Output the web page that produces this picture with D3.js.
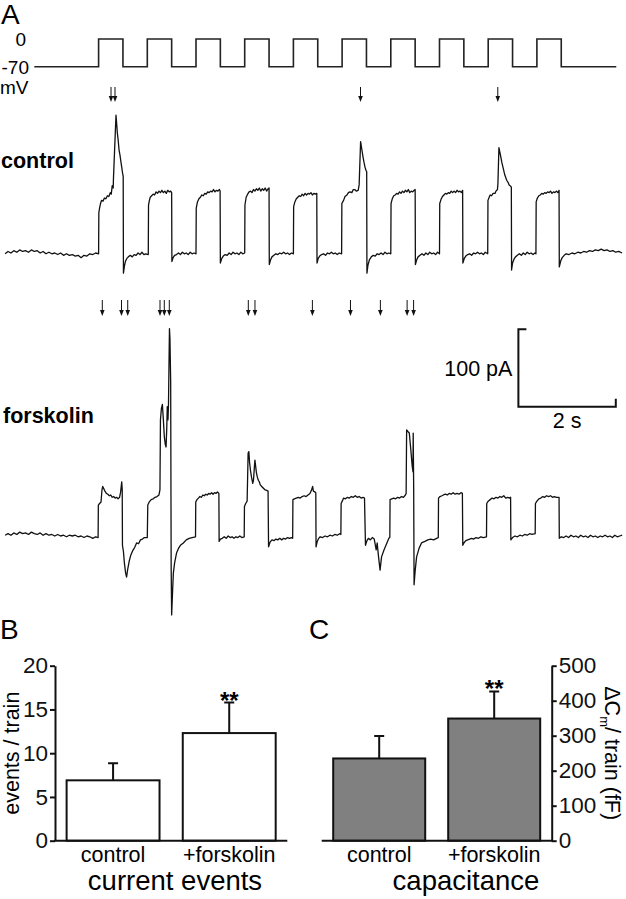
<!DOCTYPE html>
<html><head><meta charset="utf-8">
<script src="https://cdn.jsdelivr.net/npm/d3@7"></script>
<style>body{margin:0;background:#fff}svg{display:block;font-family:Arial,"Liberation Sans",Helvetica,sans-serif}</style>
</head><body><svg id="fig" width="626" height="899"></svg>
<script>
// ---------- DATA ----------
// voltage protocol: [time (s), mV]
const protocol = [[0.68,-70],[2,0],[2.5,-70],[3,0],[3.5,-70],[4,0],[4.5,-70],[5,0],[5.5,-70],[6,0],[6.5,-70],[7,0],[7.5,-70],[8,0],[8.5,-70],[9,0],[9.5,-70],[10,0],[10.5,-70],[11,0],[11.5,-70],[12.63,-70]];
const protocolLabels = ["0","-70","mV"];

// control current trace: [time (s), pA]
const controlTrace = [
[0.08,-1],[0.14,2],[0.2,0],[0.26,3],[0.32,1],[0.38,4],[0.44,2],[0.5,3],[0.56,1],[0.62,4],[0.68,2],[0.74,3],[0.8,0],[0.86,2],[0.92,-1],[0.98,1],[1.04,-1],[1.1,0],[1.16,-2],[1.22,0],[1.28,-3],[1.34,-1],[1.4,-3],[1.46,-2],[1.52,-4],[1.58,-3],[1.64,-6],[1.7,-3],[1.76,-4],[1.82,-1],[1.88,-2],[1.94,0],[2.0,-1],
[2.005,52],[2.02,58],[2.04,64],[2.06,68],[2.09,67],[2.12,71],[2.15,70],[2.18,74],[2.21,73],[2.24,78],[2.26,76],[2.28,87],[2.3,84],[2.305,96],[2.357,178],[2.37,168],[2.385,155],[2.4,147],[2.42,133],[2.44,126],[2.46,117],[2.475,111],[2.49,104],[2.505,99],[2.51,-26],[2.53,-17],[2.55,-11],[2.58,-7],[2.61,-5],[2.65,-3],[2.69,-5],[2.73,-2],[2.77,-3],[2.81,0],[2.85,-2],[2.89,1],[2.93,-2],[2.97,-1],[3.02,-2],
[3.025,62],[3.04,67],[3.06,72],[3.09,74],[3.12,76],[3.15,75],[3.18,79],[3.21,77],[3.24,80],[3.27,78],[3.3,81],[3.33,78],[3.36,80],[3.39,77],[3.42,81],[3.45,79],[3.48,80],[3.5,78],[3.505,-11],[3.53,-6],[3.56,-3],[3.6,-2],[3.64,0],[3.68,-2],[3.72,1],[3.76,-1],[3.8,0],[3.84,-2],[3.88,1],[3.92,-1],[3.96,0],[4.0,-1],
[4.005,58],[4.03,66],[4.06,70],[4.09,72],[4.12,75],[4.15,74],[4.18,77],[4.21,76],[4.24,79],[4.27,78],[4.3,80],[4.33,79],[4.36,82],[4.39,79],[4.42,81],[4.45,80],[4.48,82],[4.495,80],[4.5,-13],[4.53,-7],[4.56,-4],[4.6,-2],[4.64,-3],[4.68,0],[4.72,-2],[4.76,1],[4.8,-1],[4.84,0],[4.88,-2],[4.92,1],[4.96,-1],[5.0,0],
[5.005,62],[5.03,72],[5.06,76],[5.09,79],[5.12,80],[5.15,78],[5.18,82],[5.21,80],[5.24,83],[5.27,81],[5.3,84],[5.33,80],[5.36,83],[5.39,81],[5.42,84],[5.45,80],[5.48,83],[5.5,84],[5.505,-15],[5.53,-9],[5.56,-5],[5.6,-3],[5.64,-1],[5.68,-2],[5.72,0],[5.76,-1],[5.8,1],[5.84,-1],[5.88,0],[5.92,-2],[5.96,0],[6.0,-1],
[6.005,60],[6.03,66],[6.06,70],[6.09,72],[6.12,74],[6.15,73],[6.18,76],[6.21,74],[6.24,77],[6.27,75],[6.3,77],[6.33,76],[6.36,78],[6.39,75],[6.42,77],[6.45,76],[6.48,77],[6.485,-13],[6.51,-7],[6.54,-4],[6.58,-2],[6.62,-1],[6.66,-3],[6.7,0],[6.74,-1],[6.78,1],[6.82,-1],[6.86,0],[6.9,-2],[6.94,0],[6.99,-1],
[6.995,64],[7.03,68],[7.06,73],[7.1,75],[7.13,78],[7.16,79],[7.2,78],[7.23,82],[7.26,82],[7.29,80],[7.33,81],[7.35,88],[7.38,144],[7.4,136],[7.43,124],[7.45,117],[7.47,111],[7.49,107],[7.505,105],[7.51,-26],[7.53,-16],[7.56,-9],[7.6,-5],[7.64,-3],[7.68,-4],[7.72,-1],[7.76,-2],[7.8,0],[7.84,-2],[7.88,1],[7.92,-1],[7.96,0],[8.0,-1],
[8.005,64],[8.03,70],[8.06,74],[8.09,75],[8.12,77],[8.15,76],[8.18,79],[8.21,77],[8.24,80],[8.27,78],[8.3,81],[8.33,79],[8.36,82],[8.39,78],[8.42,80],[8.45,79],[8.48,81],[8.5,82],[8.505,-15],[8.53,-9],[8.56,-5],[8.6,-3],[8.64,-1],[8.68,-3],[8.72,0],[8.76,-2],[8.8,1],[8.84,-1],[8.88,0],[8.92,-2],[8.96,1],[9.0,-1],
[9.005,64],[9.03,69],[9.06,73],[9.09,75],[9.12,77],[9.15,76],[9.18,78],[9.21,77],[9.24,80],[9.27,78],[9.3,80],[9.33,78],[9.36,81],[9.39,79],[9.42,80],[9.45,78],[9.475,81],[9.48,-13],[9.51,-7],[9.54,-4],[9.58,-2],[9.62,-1],[9.66,-3],[9.7,0],[9.74,-1],[9.78,1],[9.82,-1],[9.86,0],[9.9,-2],[9.94,1],[9.99,-1],
[9.995,68],[10.02,72],[10.04,75],[10.07,74],[10.1,77],[10.14,77],[10.16,80],[10.19,82],[10.2,90],[10.22,136],[10.24,130],[10.26,124],[10.28,117],[10.31,109],[10.34,101],[10.38,94],[10.41,91],[10.43,88],[10.45,87],[10.475,85],[10.48,-22],[10.5,-13],[10.53,-8],[10.56,-5],[10.6,-3],[10.64,-1],[10.68,-3],[10.72,0],[10.76,-2],[10.8,1],[10.84,-1],[10.88,0],[10.92,-2],[10.96,0],[10.98,-1],
[10.985,66],[11.01,71],[11.04,74],[11.07,75],[11.1,77],[11.13,76],[11.16,78],[11.19,77],[11.22,79],[11.25,78],[11.28,80],[11.31,77],[11.34,79],[11.37,78],[11.4,80],[11.43,78],[11.455,81],[11.46,-18],[11.49,-10],[11.52,-6],[11.56,-3],[11.6,-1],[11.66,-2],[11.72,0],[11.78,-1],[11.84,1],[11.9,0],[11.96,2],[12.02,1],[12.08,3],[12.14,2],[12.2,4],[12.26,3],[12.32,5],[12.38,3],[12.44,4],[12.5,2],[12.56,3],[12.62,1],[12.68,2],[12.75,0]
];

// forskolin current trace: [time (s), pA]
const forskolinTrace = [
[0.08,1],[0.14,3],[0.2,1],[0.26,4],[0.32,2],[0.38,5],[0.44,3],[0.5,4],[0.56,2],[0.62,5],[0.68,3],[0.74,2],[0.8,4],[0.86,1],[0.92,3],[0.98,1],[1.04,2],[1.1,0],[1.16,2],[1.22,0],[1.28,1],[1.34,-1],[1.4,1],[1.46,0],[1.52,1],[1.58,-1],[1.64,0],[1.7,-2],[1.76,0],[1.82,-1],[1.88,-3],[1.94,-1],[1.99,-2],
[1.995,40],[2.02,42],[2.05,44],[2.07,60],[2.085,64],[2.1,62],[2.13,58],[2.16,55],[2.19,54],[2.22,52],[2.25,53],[2.28,50],[2.31,51],[2.34,49],[2.37,50],[2.4,48],[2.43,50],[2.45,56],[2.475,70],[2.485,60],[2.49,-12],[2.51,-20],[2.53,-35],[2.555,-48],[2.575,-53],[2.6,-42],[2.63,-32],[2.66,-25],[2.7,-19],[2.74,-15],[2.78,-9],[2.82,-10],[2.86,-5],[2.9,-4],[2.94,-2],[3.0,-2],
[3.01,40],[3.04,44],[3.08,47],[3.12,48],[3.16,50],[3.2,51],[3.24,53],[3.26,60],[3.27,150],[3.29,165],[3.31,170],[3.33,150],[3.35,128],[3.37,118],[3.385,115],[3.4,140],[3.41,167],[3.425,150],[3.435,170],[3.455,268],[3.465,255],[3.48,200],[3.49,-40],[3.5,-102],[3.52,-70],[3.535,-48],[3.56,-35],[3.6,-22],[3.64,-16],[3.68,-12],[3.74,-9],[3.8,-5],[3.86,-3],[3.92,-2],[3.99,-1],
[3.995,44],[4.02,47],[4.05,49],[4.08,51],[4.11,50],[4.14,53],[4.17,52],[4.2,54],[4.23,53],[4.26,55],[4.29,54],[4.32,56],[4.35,54],[4.38,56],[4.41,55],[4.44,57],[4.47,55],[4.475,-7],[4.5,-4],[4.54,-3],[4.58,-1],[4.62,-3],[4.66,0],[4.7,-2],[4.74,-1],[4.78,-3],[4.82,-1],[4.86,-2],[4.9,0],[4.94,-2],[4.99,-1],
[4.995,38],[5.02,42],[5.05,45],[5.07,107],[5.085,109],[5.1,95],[5.12,84],[5.14,76],[5.165,68],[5.18,72],[5.2,90],[5.21,98],[5.225,90],[5.24,82],[5.26,76],[5.28,72],[5.3,70],[5.32,66],[5.35,64],[5.38,62],[5.41,60],[5.45,59],[5.48,58],[5.49,-14],[5.52,-8],[5.56,-5],[5.6,-6],[5.64,-4],[5.68,-5],[5.72,-3],[5.76,-5],[5.8,-3],[5.84,-4],[5.88,-2],[5.92,-3],[5.96,-2],[5.985,-3],
[5.99,47],[6.02,48],[6.06,49],[6.1,50],[6.14,49],[6.18,51],[6.22,52],[6.26,51],[6.3,53],[6.34,55],[6.37,59],[6.395,64],[6.41,58],[6.44,57],[6.46,56],[6.465,-14],[6.49,-7],[6.52,-3],[6.55,-1],[6.6,-2],[6.65,0],[6.7,-1],[6.75,1],[6.8,0],[6.85,2],[6.9,1],[6.95,3],[6.975,2],
[6.98,42],[7.01,46],[7.03,49],[7.07,48],[7.11,50],[7.15,49],[7.19,51],[7.23,50],[7.27,52],[7.31,50],[7.35,51],[7.39,49],[7.43,50],[7.46,49],[7.48,-12],[7.51,-6],[7.54,-3],[7.58,-5],[7.62,-2],[7.66,-4],[7.7,-18],[7.72,-9],[7.75,-28],[7.78,-44],[7.81,-27],[7.86,-18],[7.92,-9],[7.96,-3],[7.98,-2],
[7.985,47],[8.02,48],[8.06,49],[8.1,48],[8.14,50],[8.18,49],[8.22,51],[8.26,50],[8.3,53],[8.315,55],[8.325,137],[8.35,135],[8.38,133],[8.41,112],[8.44,90],[8.455,83],[8.46,133],[8.47,60],[8.478,-63],[8.5,-45],[8.53,-27],[8.58,-16],[8.63,-9],[8.7,-7],[8.76,-5],[8.82,-4],[8.88,-5],[8.94,-3],[8.975,-2],
[8.98,49],[9.01,51],[9.05,52],[9.08,53],[9.12,54],[9.16,53],[9.2,55],[9.24,54],[9.28,56],[9.32,54],[9.36,55],[9.4,54],[9.44,56],[9.47,55],[9.478,-12],[9.5,-9],[9.54,-6],[9.58,-5],[9.62,-4],[9.66,-3],[9.7,-4],[9.75,-2],[9.8,-3],[9.85,-1],[9.9,-2],[9.965,-1],
[9.97,42],[10.0,45],[10.04,47],[10.08,49],[10.12,48],[10.16,50],[10.2,49],[10.24,51],[10.28,50],[10.32,52],[10.36,49],[10.4,50],[10.44,49],[10.46,50],[10.465,-5],[10.5,-2],[10.55,0],[10.6,-1],[10.65,1],[10.7,0],[10.75,2],[10.8,1],[10.85,3],[10.9,2],[10.965,3],
[10.97,42],[11.0,45],[11.04,48],[11.08,49],[11.12,51],[11.16,50],[11.2,52],[11.24,51],[11.28,52],[11.32,50],[11.36,51],[11.4,50],[11.455,50],[11.46,-3],[11.5,-1],[11.55,-2],[11.6,0],[11.65,-2],[11.7,1],[11.75,-1],[11.8,0],[11.85,-2],[11.9,1],[11.95,-1],[12.0,0],[12.05,-2],[12.1,1],[12.15,-1],[12.2,0],[12.25,-2],[12.3,0],[12.35,-1],[12.4,1],[12.45,-1],[12.5,0],[12.55,-2],[12.6,1],[12.65,-1],[12.7,0],[12.75,1]
];

// exocytotic event markers (time, s)
const controlArrows = [2.255, 2.337, 7.378, 10.197];
const forskolinArrows = [2.076, 2.470, 2.598, 3.261, 3.349, 3.452, 5.074, 5.211, 6.390, 7.172, 7.786, 8.335, 8.468];

// scale bar
const scaleBarTime = 2;      // s
const scaleBarCurrent = 100; // pA
const scaleBarStart = 10.62; // s

// bar charts
const categories = ["control", "+forskolin"];
const eventsMean = [6.9, 12.3];
const eventsSEM = [1.95, 3.5];
const eventsTicks = [0, 5, 10, 15, 20];
const capMean = [235, 349];
const capSEM = [64, 77];
const capTicks = [0, 100, 200, 300, 400, 500];

// ---------- DRAW ----------
const svg = d3.select("#fig");
svg.append("rect").attr("width", 626).attr("height", 899).attr("fill", "#fff");

const xT = d3.scaleLinear().domain([0, 12.8]).range([1.2, 1.2 + 48.7 * 12.8]);
const yV = d3.scaleLinear().domain([-70, 0]).range([66.7, 39]);
const yCtrl = d3.scaleLinear().domain([0, 100]).range([253, 253 - 77.4]);
const yFsk = d3.scaleLinear().domain([0, 100]).range([536, 536 - 77.4]);

// panel letters
const letter = (t, x, y) => svg.append("text").attr("x", x).attr("y", y).attr("font-size", 28).text(t);
letter("A", 1, 24);
letter("B", 0, 638.5);
letter("C", 309, 638.5);

// protocol
svg.append("path").datum(protocol)
  .attr("d", d3.line().x(d => xT(d[0])).y(d => yV(d[1])).curve(d3.curveStepAfter))
  .attr("fill", "none").attr("stroke", "#222").attr("stroke-width", 1.6);
svg.append("text").attr("x", 26).attr("y", yV(0) + 7).attr("text-anchor", "end").attr("font-size", 19).text(protocolLabels[0]);
svg.append("text").attr("x", 29).attr("y", yV(-70) + 7).attr("text-anchor", "end").attr("font-size", 19).text(protocolLabels[1]);
svg.append("text").attr("x", 0).attr("y", 94).attr("font-size", 19).text(protocolLabels[2]);

// traces
const traceLine = (yScale) => d3.line().x(d => xT(d[0])).y(d => yScale(d[1]));
svg.append("path").datum(controlTrace).attr("d", traceLine(yCtrl))
  .attr("fill", "none").attr("stroke", "#111").attr("stroke-width", 1.3).attr("stroke-linejoin", "round");
svg.append("path").datum(forskolinTrace).attr("d", traceLine(yFsk))
  .attr("fill", "none").attr("stroke", "#111").attr("stroke-width", 1.3).attr("stroke-linejoin", "round");

// condition labels
svg.append("text").attr("x", 1).attr("y", 168).attr("font-size", 21.5).attr("font-weight", "bold").text("control");
svg.append("text").attr("x", 3).attr("y", 423).attr("font-size", 21.5).attr("font-weight", "bold").text("forskolin");

// arrows
function drawArrows(times, y0, y1) {
  const g = svg.append("g");
  times.forEach(t => {
    const x = xT(t);
    g.append("line").attr("x1", x).attr("x2", x).attr("y1", y0).attr("y2", y1 - 4)
      .attr("stroke", "#111").attr("stroke-width", 1);
    g.append("path").attr("d", `M${x - 2.3},${y1 - 6}L${x + 2.3},${y1 - 6}L${x},${y1}Z`).attr("fill", "#111");
  });
}
drawArrows(controlArrows, 87, 102);
drawArrows(forskolinArrows, 300, 316);

// scale bar
const sbX0 = xT(scaleBarStart), sbX1 = xT(scaleBarStart + scaleBarTime);
const sbLen = yFsk(0) - yFsk(scaleBarCurrent);
const sbBottom = 406.7, sbTop = sbBottom - sbLen;
svg.append("path")
  .attr("d", `M${sbX0 + 8},${sbTop}H${sbX0}V${sbBottom}H${sbX1}V${sbBottom - 8}`)
  .attr("fill", "none").attr("stroke", "#111").attr("stroke-width", 2);
svg.append("text").attr("x", sbX0 - 6).attr("y", (sbTop + sbBottom) / 2 + 8).attr("text-anchor", "end").attr("font-size", 21.5).text(scaleBarCurrent + " pA");
svg.append("text").attr("x", (sbX0 + sbX1) / 2).attr("y", 428).attr("text-anchor", "middle").attr("font-size", 21.5).text(scaleBarTime + " s");

// ----- Panel B -----
const yB = d3.scaleLinear().domain([0, 20]).range([840.7, 665.7]);
const xB = d3.scaleBand().domain(categories).range([55, 287.3]).paddingInner(0.2).paddingOuter(0.1);
const gB = svg.append("g");
gB.selectAll("rect.bar").data(categories).join("rect")
  .attr("x", d => xB(d)).attr("width", xB.bandwidth())
  .attr("y", (d, i) => yB(eventsMean[i])).attr("height", (d, i) => yB(0) - yB(eventsMean[i]))
  .attr("fill", "#fff").attr("stroke", "#111").attr("stroke-width", 2);
categories.forEach((c, i) => {
  const cx = xB(c) + xB.bandwidth() / 2;
  gB.append("path").attr("d", `M${cx},${yB(eventsMean[i])}V${yB(eventsMean[i] + eventsSEM[i])}M${cx - 5},${yB(eventsMean[i] + eventsSEM[i])}H${cx + 5}`)
    .attr("fill", "none").attr("stroke", "#111").attr("stroke-width", 2);
  gB.append("text").attr("x", cx).attr("y", 862).attr("text-anchor", "middle").attr("font-size", 21.5).text(c);
});
gB.append("text").attr("x", xB(categories[1]) + xB.bandwidth() / 2).attr("y", 709).attr("text-anchor", "middle")
  .attr("font-size", 24).attr("font-weight", "bold").text("**");
const axB = gB.append("g").attr("transform", "translate(55,0)")
  .call(d3.axisLeft(yB).tickValues(eventsTicks).tickSize(5).tickSizeOuter(0).tickPadding(2));
axB.selectAll("path,line").attr("stroke", "#111").attr("stroke-width", 2);
axB.selectAll("text").attr("font-size", 22.5).attr("font-family", "Arial, 'Liberation Sans', sans-serif").attr("fill", "#111");
gB.append("line").attr("x1", 54).attr("x2", 287.3).attr("y1", yB(0)).attr("y2", yB(0)).attr("stroke", "#111").attr("stroke-width", 2);
gB.append("text").attr("transform", `translate(19,${(yB(0) + yB(20)) / 2}) rotate(-90)`).attr("text-anchor", "middle")
  .attr("font-size", 21.5).text("events / train");
gB.append("text").attr("x", 175).attr("y", 890).attr("text-anchor", "middle").attr("font-size", 27.5).text("current events");

// ----- Panel C -----
const yC = d3.scaleLinear().domain([0, 500]).range([840.7, 665.7]);
const xC = d3.scaleBand().domain(categories).range([321.7, 551.7]).paddingInner(0.2).paddingOuter(0.1);
const gC = svg.append("g");
gC.selectAll("rect.bar").data(categories).join("rect")
  .attr("x", d => xC(d)).attr("width", xC.bandwidth())
  .attr("y", (d, i) => yC(capMean[i])).attr("height", (d, i) => yC(0) - yC(capMean[i]))
  .attr("fill", "#808080").attr("stroke", "#111").attr("stroke-width", 2);
categories.forEach((c, i) => {
  const cx = xC(c) + xC.bandwidth() / 2;
  gC.append("path").attr("d", `M${cx},${yC(capMean[i])}V${yC(capMean[i] + capSEM[i])}M${cx - 5},${yC(capMean[i] + capSEM[i])}H${cx + 5}`)
    .attr("fill", "none").attr("stroke", "#111").attr("stroke-width", 2);
  gC.append("text").attr("x", cx).attr("y", 862).attr("text-anchor", "middle").attr("font-size", 21.5).text(c);
});
gC.append("text").attr("x", xC(categories[1]) + xC.bandwidth() / 2).attr("y", 697).attr("text-anchor", "middle")
  .attr("font-size", 24).attr("font-weight", "bold").text("**");
const axC = gC.append("g").attr("transform", "translate(551.7,0)")
  .call(d3.axisRight(yC).tickValues(capTicks).tickSize(5).tickSizeOuter(0).tickPadding(2));
axC.selectAll("path,line").attr("stroke", "#111").attr("stroke-width", 2);
axC.selectAll("text").attr("font-size", 22.5).attr("font-family", "Arial, 'Liberation Sans', sans-serif").attr("fill", "#111");
gC.append("line").attr("x1", 321.7).attr("x2", 552.7).attr("y1", yC(0)).attr("y2", yC(0)).attr("stroke", "#111").attr("stroke-width", 2);
const lblC = gC.append("text").attr("transform", `translate(605,${(yC(0) + yC(500)) / 2}) rotate(90)`).attr("text-anchor", "middle")
  .attr("font-size", 21.5);
lblC.append("tspan").text("ΔC");
lblC.append("tspan").attr("font-size", 13).attr("dy", 5).text("m");
lblC.append("tspan").attr("dy", -5).text("/ train (fF)");
gC.append("text").attr("x", 466).attr("y", 890).attr("text-anchor", "middle").attr("font-size", 27.5).text("capacitance");
</script>
</body></html>
